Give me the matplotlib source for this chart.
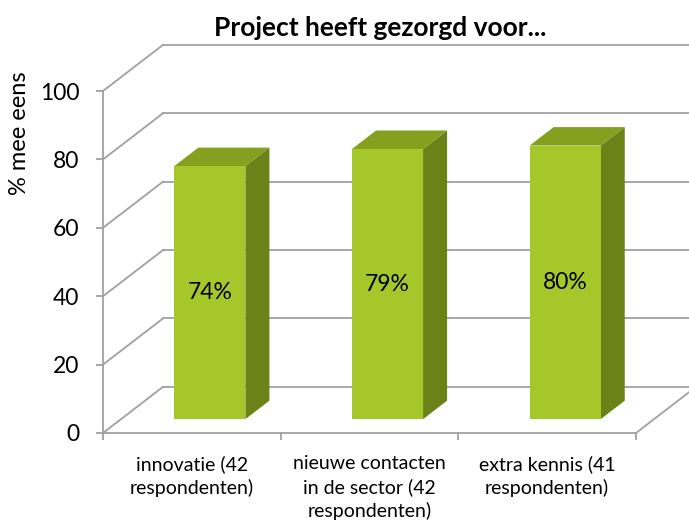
import matplotlib
matplotlib.use("Agg")
import matplotlib.pyplot as plt
from matplotlib.patches import Polygon

plt.rcParams['font.family'] = ['Lato', 'DejaVu Sans']

categories = ["innovatie (42\nrespondenten)",
              "nieuwe contacten\nin de sector (42\nrespondenten)",
              "extra kennis (41\nrespondenten)"]
values = [74, 79, 80]
labels = ["74%", "79%", "80%"]
yticks = [0, 20, 40, 60, 80, 100]

GRID = "#a0a0a0"
FRONT = "#a6c72a"
TOP = "#85a01e"
SIDE = "#6b8219"

# depth offset of the back wall, in data units
DX = 0.338
DY = 13.5
# bars occupy this part of the depth
D0, D1 = 0.3, 0.7
BAR_W = 0.4

fig = plt.figure(figsize=(6.89, 5.23), dpi=100)
ax = fig.add_axes([0.1495, 0.1721, 0.7736, 0.6539])
ax.set_xlim(0, len(values))
ax.set_ylim(0, 100)

n = len(values)
# back wall gridlines and side wall diagonals
for v in yticks:
    ax.plot([DX, n + DX], [v + DY, v + DY], color=GRID, lw=1.3, clip_on=False, zorder=1)
    ax.plot([0, DX], [v, v + DY], color=GRID, lw=1.3, clip_on=False, zorder=1)
# right floor edge
ax.plot([n, n + DX], [0, DY], color=GRID, lw=1.3, clip_on=False, zorder=1)

for i, v in enumerate(values):
    x0 = i + 0.5 - BAR_W / 2
    x1 = i + 0.5 + BAR_W / 2
    sx, sy = D0 * DX, D0 * DY
    ex, ey = D1 * DX, D1 * DY
    front = [(x0 + sx, sy), (x1 + sx, sy), (x1 + sx, v + sy), (x0 + sx, v + sy)]
    top = [(x0 + sx, v + sy), (x1 + sx, v + sy), (x1 + ex, v + ey), (x0 + ex, v + ey)]
    side = [(x1 + sx, sy), (x1 + ex, ey), (x1 + ex, v + ey), (x1 + sx, v + sy)]
    ax.add_patch(Polygon(side, closed=True, facecolor=SIDE, edgecolor="none", zorder=3, clip_on=False))
    ax.add_patch(Polygon(top, closed=True, facecolor=TOP, edgecolor="none", zorder=3, clip_on=False))
    ax.add_patch(Polygon(front, closed=True, facecolor=FRONT, edgecolor="none", zorder=4, clip_on=False))
    ax.text(i + 0.5 + sx, v / 2 + sy, labels[i], ha="center", va="center",
            fontsize=16.5, color="black", zorder=5)

for s in ["top", "right"]:
    ax.spines[s].set_visible(False)
for s in ["left", "bottom"]:
    ax.spines[s].set_color(GRID)
    ax.spines[s].set_linewidth(1.3)
    ax.spines[s].set_zorder(2)

ax.set_yticks(yticks)
ax.set_yticklabels([str(t) for t in yticks], fontsize=16.5)
ax.set_xticks(range(n + 1))
ax.set_xticklabels([])
ax.set_xticks([i + 0.5 for i in range(n)], minor=True)
ax.set_xticklabels(categories, minor=True, fontsize=14, linespacing=1.4)
ax.tick_params(axis="y", length=5, width=1.3, color=GRID, pad=12)
ax.tick_params(axis="x", which="major", length=5, width=1.3, color=GRID)
ax.tick_params(axis="x", which="minor", length=0, pad=16)
ax.patch.set_visible(False)

fig.text(20 / 689, 1 - 133 / 523, "% mee eens", rotation=90, ha="center", va="center", fontsize=17)
fig.text(380 / 689, 1 - 28 / 523, "Project heeft gezorgd voor...", ha="center", va="center",
         fontsize=19, fontweight="bold")

fig.savefig("out.png", dpi=100)
